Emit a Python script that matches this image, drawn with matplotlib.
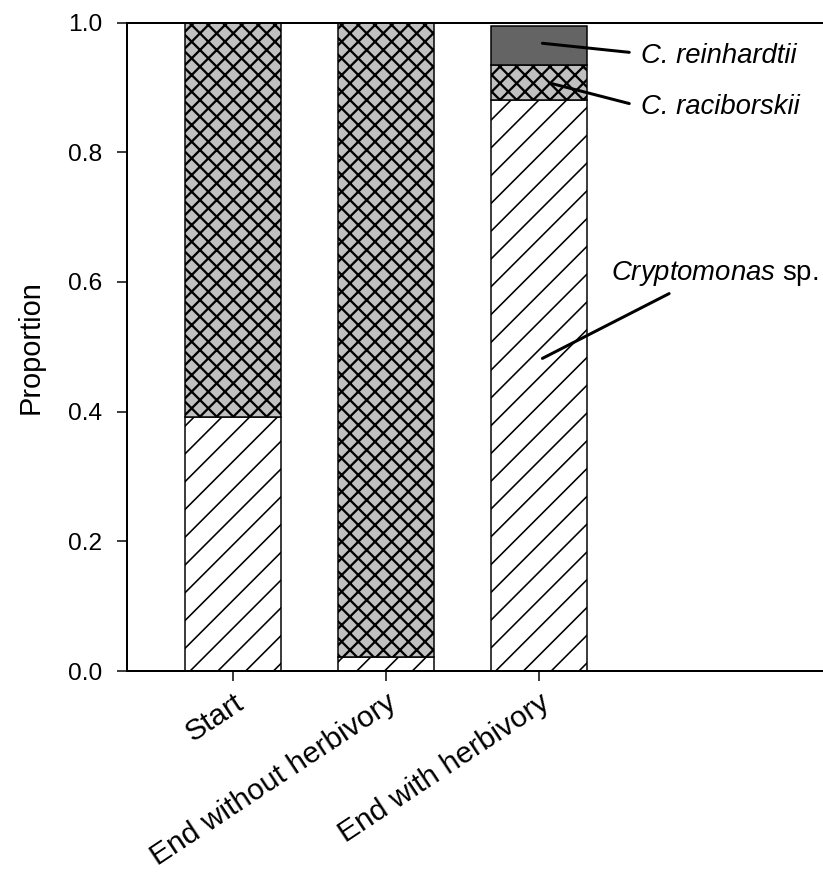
import matplotlib
matplotlib.use("Agg")
import matplotlib.pyplot as plt
import matplotlib.transforms as mtransforms

# data
groups = ["Start", "End without herbivory", "End with herbivory"]
cryptomonas = [0.392, 0.021, 0.881]
raciborskii = [0.608, 0.979, 0.053]
reinhardtii = [0.0, 0.0, 0.061]

# dpi picked so the hatch spacing matches the original
DPI = 250
W, H = 823, 883


def pt(px):
    return px * 72.0 / DPI


plt.rcParams["font.family"] = ["Liberation Sans", "DejaVu Sans"]
plt.rcParams["mathtext.fontset"] = "custom"
plt.rcParams["mathtext.it"] = "Liberation Sans:italic"
plt.rcParams["mathtext.rm"] = "Liberation Sans"
plt.rcParams["hatch.linewidth"] = pt(1.6)

fig = plt.figure(figsize=(W / DPI, H / DPI), dpi=DPI)
ax = fig.add_axes([127 / W, (H - 671) / H, 1 - 127 / W, (671 - 22.5) / H])

x = list(range(len(groups)))
width = 0.627
edge_lw = pt(1.5)

b1 = ax.bar(x, cryptomonas, width, color="white", edgecolor="black",
            hatch="///", linewidth=edge_lw)
b2 = ax.bar(x, raciborskii, width, bottom=cryptomonas, color="#c0c0c0",
            edgecolor="black", hatch="xxxxx", linewidth=edge_lw)
bottom3 = [a + b for a, b in zip(cryptomonas, raciborskii)]
b3 = ax.bar(x, reinhardtii, width, bottom=bottom3, color="#646464",
            edgecolor="black", linewidth=edge_lw)
for p in b2:
    if hasattr(p, "set_hatch_linewidth"):
        p.set_hatch_linewidth(pt(2.3))

ax.set_xlim(-0.696, 3.86)
ax.set_ylim(0, 1.0)
ax.set_yticks([0.0, 0.2, 0.4, 0.6, 0.8, 1.0])
ax.set_yticklabels(["0.0", "0.2", "0.4", "0.6", "0.8", "1.0"])
ax.set_xticks(x)
ax.set_xticklabels(groups, rotation=33.5, ha="right", va="top",
                   rotation_mode="anchor", fontsize=pt(30))
offset = mtransforms.ScaledTranslation(pt(12) / 72, -pt(4) / 72, fig.dpi_scale_trans)
for lab in ax.get_xticklabels():
    lab.set_transform(lab.get_transform() + offset)

ax.tick_params(axis="both", direction="out", length=pt(10), width=pt(1.5),
               pad=pt(8), colors="black")
ax.tick_params(axis="y", labelsize=pt(24.5), pad=pt(15))
ax.spines["right"].set_visible(False)
for s in ["left", "bottom", "top"]:
    ax.spines[s].set_linewidth(pt(2))

ax.set_ylabel("Proportion", fontsize=pt(29), labelpad=pt(23))

# species labels with leader lines
line_kw = dict(arrowstyle="-", lw=pt(3), color="black", shrinkA=0, shrinkB=0)
lab_size = pt(27.5)
ax.annotate("", xy=(2.023, 0.968), xytext=(2.592, 0.954), arrowprops=line_kw)
ax.text(2.67, 0.949, "C. reinhardtii", fontsize=lab_size, style="italic",
        va="center", ha="left")
ax.annotate("", xy=(2.082, 0.906), xytext=(2.592, 0.875), arrowprops=line_kw)
ax.text(2.67, 0.869, "C. raciborskii", fontsize=lab_size, style="italic",
        va="center", ha="left")
ax.annotate("", xy=(2.023, 0.482), xytext=(2.853, 0.582), arrowprops=line_kw)
ax.text(2.47, 0.613, r"$\mathit{Cryptomonas}$ sp.", fontsize=lab_size,
        va="center", ha="left")

fig.savefig("out.png", dpi=DPI)
